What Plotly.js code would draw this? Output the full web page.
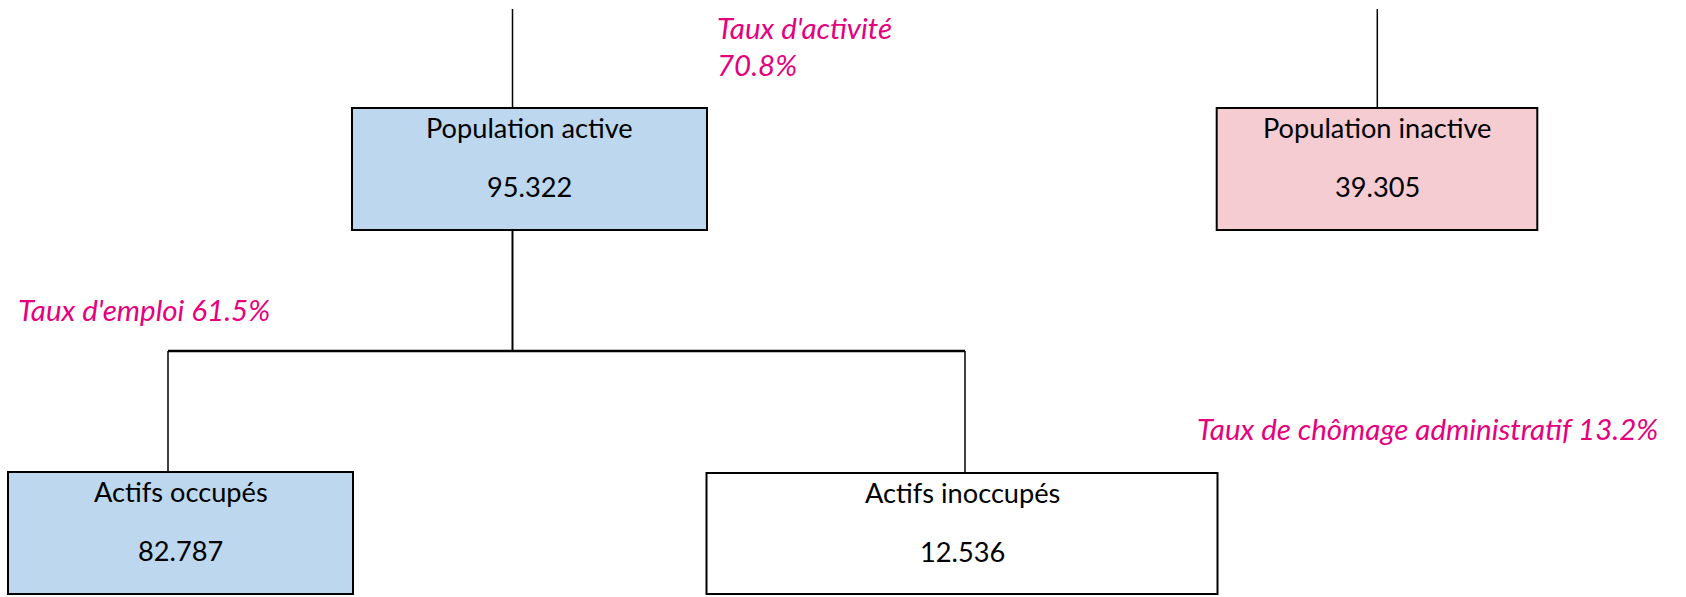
<!DOCTYPE html>
<html>
<head>
<meta charset="utf-8">
<script src="https://cdn.plot.ly/plotly-3.0.1.min.js"></script>
<style>
  html, body { margin: 0; padding: 0; background: #ffffff; }
  #chart { width: 1686px; height: 597px; }
</style>
</head>
<body>
<div id="chart"></div>
<script>
// ---- Data ----
const nodeLabels = ["Population active", "Population inactive", "Actifs occupés", "Actifs inoccupés"];
const nodeValues = [95.322, 39.305, 82.787, 12.536];
const rateLabels = ["Taux d'activité", "Taux d'emploi", "Taux de chômage administratif"];
const rateValues = [70.8, 61.5, 13.2];

// ---- Layout (positions in pixel-like data units) ----
const W = 1686, H = 597;
const boxGeom = [
  {x0: 352,   x1: 707,    y0: 108, y1: 230, fill: '#BDD7EE'},
  {x0: 1216.7, x1: 1537.3, y0: 108, y1: 230, fill: '#F4CCD1'},
  {x0: 8,     x1: 353,    y0: 472, y1: 594, fill: '#BDD7EE'},
  {x0: 706.5, x1: 1217.5, y0: 473, y1: 594, fill: '#FFFFFF'}
];
const labelOffset = 20, valueOffset = 79.5;
const connectors = [
  {x0: 512.5, y0: 9,   x1: 512.5, y1: 108, w: 1.5},
  {x0: 1377.3, y0: 9,  x1: 1377.3, y1: 108, w: 1.5},
  {x0: 512.5, y0: 230, x1: 512.5, y1: 351, w: 2},
  {x0: 168,   y0: 351, x1: 965,   y1: 351, w: 2.5},
  {x0: 168,   y0: 351, x1: 168,   y1: 472, w: 1.5},
  {x0: 965,   y0: 351, x1: 965,   y1: 473, w: 1.5}
];
const rateGeom = [
  {x: 715, y: 28, y2: 65, split: true},
  {x: 16,  y: 310},
  {x: 1195, y: 429}
];

const boxFont = {family: 'Lato, "Open Sans", sans-serif', size: 27.2, color: '#000000'};
const rateFont = {family: 'Lato, "Open Sans", sans-serif', size: 29.5, color: '#E5007E'};
const yShift = -1; // cap-centre correction

const shapes = [];
const annotations = [];

connectors.forEach(c => shapes.push({
  type: 'line', xref: 'x', yref: 'y', x0: c.x0, y0: c.y0, x1: c.x1, y1: c.y1,
  line: {color: '#000000', width: c.w}, layer: 'below'
}));

nodeLabels.forEach((lab, i) => {
  const g = boxGeom[i];
  shapes.push({
    type: 'rect', xref: 'x', yref: 'y', x0: g.x0, x1: g.x1, y0: g.y0, y1: g.y1,
    fillcolor: g.fill, line: {color: '#000000', width: 2}, layer: 'above'
  });
  const cx = (g.x0 + g.x1) / 2;
  annotations.push({
    x: cx, y: g.y0 + labelOffset + yShift, xref: 'x', yref: 'y', text: lab,
    showarrow: false, xanchor: 'center', yanchor: 'middle', font: boxFont
  });
  annotations.push({
    x: cx, y: g.y0 + valueOffset + yShift, xref: 'x', yref: 'y',
    text: nodeValues[i].toFixed(3),
    showarrow: false, xanchor: 'center', yanchor: 'middle', font: boxFont
  });
});

rateLabels.forEach((lab, i) => {
  const g = rateGeom[i];
  const val = rateValues[i].toFixed(1) + '%';
  if (g.split) {
    annotations.push({x: g.x, y: g.y + yShift, xref: 'x', yref: 'y', text: '<i>' + lab + '</i>',
      showarrow: false, xanchor: 'left', yanchor: 'middle', font: rateFont});
    annotations.push({x: g.x, y: g.y2 + yShift, xref: 'x', yref: 'y', text: '<i>' + val + '</i>',
      showarrow: false, xanchor: 'left', yanchor: 'middle', font: rateFont});
  } else {
    annotations.push({x: g.x, y: g.y + yShift, xref: 'x', yref: 'y', text: '<i>' + lab + ' ' + val + '</i>',
      showarrow: false, xanchor: 'left', yanchor: 'middle', font: rateFont});
  }
});

const layout = {
  width: W, height: H,
  margin: {l: 0, r: 0, t: 0, b: 0, pad: 0},
  paper_bgcolor: '#ffffff', plot_bgcolor: '#ffffff',
  xaxis: {range: [0, W], visible: false, fixedrange: true},
  yaxis: {range: [H, 0], visible: false, fixedrange: true},
  showlegend: false,
  shapes: shapes,
  annotations: annotations
};

Plotly.newPlot('chart', [{x: [], y: [], type: 'scatter', mode: 'markers', hoverinfo: 'skip'}], layout,
  {staticPlot: true, displayModeBar: false});
</script>
</body>
</html>
